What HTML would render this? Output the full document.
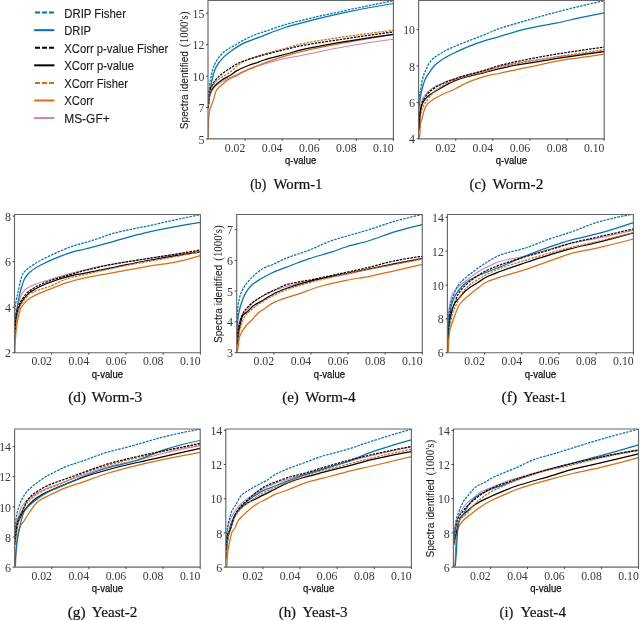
<!DOCTYPE html><html><head><meta charset="utf-8"><style>html,body{margin:0;padding:0;background:#fff;}svg{display:block;will-change:transform;}</style></head><body>
<svg width="640" height="620" viewBox="0 0 640 620">
<rect width="640" height="620" fill="#fff"/>
<line x1="35" y1="12.6" x2="54" y2="12.6" stroke="#0072b2" stroke-width="2" stroke-dasharray="5 2"/>
<text x="64.2" y="17.9" font-family='"Liberation Sans", sans-serif' font-size="12.2" fill="#1a1a1a" stroke="#1a1a1a" stroke-width="0.12" textLength="61.8" lengthAdjust="spacingAndGlyphs">DRIP Fisher</text>
<line x1="34.2" y1="30.18" x2="54.4" y2="30.18" stroke="#0072b2" stroke-width="2"/>
<text x="64.2" y="35.4" font-family='"Liberation Sans", sans-serif' font-size="12.2" fill="#1a1a1a" stroke="#1a1a1a" stroke-width="0.12" textLength="26.8" lengthAdjust="spacingAndGlyphs">DRIP</text>
<line x1="35" y1="47.76" x2="54" y2="47.76" stroke="#000000" stroke-width="2" stroke-dasharray="5 2"/>
<text x="64.2" y="52.9" font-family='"Liberation Sans", sans-serif' font-size="12.2" fill="#1a1a1a" stroke="#1a1a1a" stroke-width="0.12" textLength="104.2" lengthAdjust="spacingAndGlyphs">XCorr p-value Fisher</text>
<line x1="34.2" y1="65.34" x2="54.4" y2="65.34" stroke="#000000" stroke-width="2"/>
<text x="64.2" y="70.4" font-family='"Liberation Sans", sans-serif' font-size="12.2" fill="#1a1a1a" stroke="#1a1a1a" stroke-width="0.12" textLength="69.9" lengthAdjust="spacingAndGlyphs">XCorr p-value</text>
<line x1="35" y1="82.92" x2="54" y2="82.92" stroke="#d66e12" stroke-width="2" stroke-dasharray="5 2"/>
<text x="64.2" y="87.9" font-family='"Liberation Sans", sans-serif' font-size="12.2" fill="#1a1a1a" stroke="#1a1a1a" stroke-width="0.12" textLength="63.7" lengthAdjust="spacingAndGlyphs">XCorr Fisher</text>
<line x1="34.2" y1="100.5" x2="54.4" y2="100.5" stroke="#d66e12" stroke-width="2"/>
<text x="64.2" y="105.4" font-family='"Liberation Sans", sans-serif' font-size="12.2" fill="#1a1a1a" stroke="#1a1a1a" stroke-width="0.12" textLength="29.6" lengthAdjust="spacingAndGlyphs">XCorr</text>
<line x1="34.2" y1="118.08" x2="54.4" y2="118.08" stroke="#cd82b1" stroke-width="2"/>
<text x="64.2" y="122.9" font-family='"Liberation Sans", sans-serif' font-size="12.2" fill="#1a1a1a" stroke="#1a1a1a" stroke-width="0.12" textLength="45.5" lengthAdjust="spacingAndGlyphs">MS-GF+</text>
<clipPath id="cpb"><rect x="208" y="0.5" width="185.4" height="138.4"/></clipPath>
<g clip-path="url(#cpb)" fill="none" stroke-linejoin="round">
<path d="M208.1 109 C208.43 105.81 208.77 102.65 209.1 100.8 C209.8 96.91 210.5 94.06 211.2 92.5 C212.9 88.71 214.6 86.8 216.3 85.3 C219.73 82.26 223.17 80.84 226.6 79.1 C229.7 77.53 232.8 76.5 235.9 75 C237.37 74.29 238.83 73.37 240.3 72.7 C246.2 70 252.1 67.81 258 65.9 C267.03 62.98 276.07 60.48 285.1 58.5 C290.07 57.41 295.03 56.66 300 55.7 C314.83 52.84 329.67 49.38 344.5 46.8 C360.8 43.96 377.1 41.4 393.4 39.3" stroke="#cd82b1" stroke-width="1.1"/>
<path d="M207.9 138.9 C207.97 138.76 208.03 137.92 208.1 137 C208.27 134.7 208.43 121.57 208.6 119.4 C209.1 112.88 209.6 111.02 210.1 109 C211.13 104.83 212.17 103.84 213.2 100.8 C214.23 97.76 215.27 92.19 216.3 90.5 C218.37 87.12 220.43 86.19 222.5 84.3 C224.57 82.41 226.63 80.32 228.7 79.1 C231.8 77.27 234.9 76.7 238 75 C238.77 74.58 239.53 73.93 240.3 73.5 C246.2 70.2 252.1 67.82 258 65.5 C268.1 61.53 278.2 58.27 288.3 55.2 C292.2 54.01 296.1 52.85 300 51.9 C316.67 47.84 333.33 44.9 350 41.8 C364.47 39.11 378.93 36.6 393.4 34.3" stroke="#d66e12" stroke-width="1.25"/>
<path d="M208.3 108 C208.7 102.94 209.1 96.44 209.5 95 C211.1 89.26 212.7 88.31 214.3 86.4 C216.7 83.54 219.1 81.84 221.5 80.2 C224.6 78.08 227.7 76.98 230.8 75 C232.6 73.85 234.4 72.14 236.2 71.1 C240.23 68.76 244.27 67.04 248.3 65.5 C251.53 64.26 254.77 63.44 258 62.3 C260.03 61.58 262.07 60.66 264.1 60 C272.17 57.38 280.23 55.73 288.3 53.5 C292.2 52.42 296.1 51.12 300 50.2 C316.67 46.28 333.33 43.57 350 40.8 C364.47 38.39 378.93 36.21 393.4 34.3" stroke="#000000" stroke-width="1.25"/>
<path d="M208.5 104 C208.83 100.71 209.17 97.47 209.5 95 C210.33 88.82 211.17 83.53 212 80 C213.37 74.21 214.73 69.75 216.1 67.1 C218.77 61.93 221.43 59.23 224.1 56.6 C226.8 53.94 229.5 52.06 232.2 50.2 C236.23 47.42 240.27 44.79 244.3 42.9 C248.87 40.76 253.43 39.43 258 37.7 C267.03 34.28 276.07 30.37 285.1 27.5 C290.07 25.92 295.03 24.61 300 23.3 C314.83 19.4 329.67 15.72 344.5 12.6 C360.8 9.17 377.1 6.07 393.4 3.5" stroke="#0072b2" stroke-width="1.25"/>
<path d="M208.3 106 C208.63 101.62 208.97 96.57 209.3 95 C210.27 90.45 211.23 89.24 212.2 87.4 C213.8 84.36 215.4 81.97 217 80.5 C219.87 77.87 222.73 76.92 225.6 75 C227.73 73.57 229.87 72.13 232 70.5 C234.77 68.39 237.53 65.13 240.3 63.5 C246.2 60.03 252.1 58.02 258 56 C267.03 52.91 276.07 50.94 285.1 48.4 C290.07 47 295.03 45.29 300 44.2 C314.83 40.96 329.67 38.98 344.5 36.8 C360.8 34.41 377.1 32.23 393.4 30.4" stroke="#d66e12" stroke-width="1.25" stroke-dasharray="2.5 1.1"/>
<path d="M208.3 104 C208.57 99.51 208.83 93.74 209.1 92.5 C210.13 87.68 211.17 87.21 212.2 85.3 C213.57 82.77 214.93 80.61 216.3 79.1 C220.27 74.71 224.23 72.22 228.2 69.5 C232.23 66.74 236.27 64.02 240.3 62.3 C246.2 59.79 252.1 58.32 258 56.6 C267.03 53.97 276.07 51.73 285.1 49.5 C290.07 48.28 295.03 46.97 300 46 C314.83 43.09 329.67 41.14 344.5 38.9 C360.8 36.44 377.1 34.09 393.4 31.9" stroke="#000000" stroke-width="1.25" stroke-dasharray="2.5 1.1"/>
<path d="M208.3 100 C208.4 98.45 208.5 96.76 208.6 95.6 C209.2 88.64 209.8 83.3 210.4 80 C211.77 72.48 213.13 67.95 214.5 64.7 C215.57 62.16 216.63 60.51 217.7 59 C219.83 55.98 221.97 53.53 224.1 51.8 C228.13 48.53 232.17 46.91 236.2 44.5 C238.9 42.89 241.6 41.09 244.3 39.7 C248.87 37.35 253.43 35.2 258 33.6 C259.53 33.06 261.07 32.68 262.6 32.2 C270.1 29.84 277.6 26.88 285.1 24.7 C290.07 23.26 295.03 22.02 300 20.8 C314.83 17.15 329.67 13.89 344.5 10.7 C360.8 7.19 377.1 3.84 393.4 0.7" stroke="#0072b2" stroke-width="1.25" stroke-dasharray="2.5 1.1"/>
</g>
<rect x="208" y="0.5" width="185.4" height="138.4" fill="none" stroke="#666666" stroke-width="1.15" stroke-linejoin="round"/>
<line x1="245.08" y1="138.9" x2="245.08" y2="140.9" stroke="#333" stroke-width="0.9"/>
<text x="245.38" y="151.6" font-family='"Liberation Serif", serif' font-size="12.6" fill="#383838" text-anchor="end" textLength="20.6" lengthAdjust="spacingAndGlyphs">0.02</text>
<line x1="282.16" y1="138.9" x2="282.16" y2="140.9" stroke="#333" stroke-width="0.9"/>
<text x="282.46" y="151.6" font-family='"Liberation Serif", serif' font-size="12.6" fill="#383838" text-anchor="end" textLength="20.6" lengthAdjust="spacingAndGlyphs">0.04</text>
<line x1="319.24" y1="138.9" x2="319.24" y2="140.9" stroke="#333" stroke-width="0.9"/>
<text x="319.54" y="151.6" font-family='"Liberation Serif", serif' font-size="12.6" fill="#383838" text-anchor="end" textLength="20.6" lengthAdjust="spacingAndGlyphs">0.06</text>
<line x1="356.32" y1="138.9" x2="356.32" y2="140.9" stroke="#333" stroke-width="0.9"/>
<text x="356.62" y="151.6" font-family='"Liberation Serif", serif' font-size="12.6" fill="#383838" text-anchor="end" textLength="20.6" lengthAdjust="spacingAndGlyphs">0.08</text>
<line x1="393.4" y1="138.9" x2="393.4" y2="140.9" stroke="#333" stroke-width="0.9"/>
<text x="393.7" y="151.6" font-family='"Liberation Serif", serif' font-size="12.6" fill="#383838" text-anchor="end" textLength="20.6" lengthAdjust="spacingAndGlyphs">0.10</text>
<line x1="206" y1="138.9" x2="208" y2="138.9" stroke="#333" stroke-width="0.9"/>
<text x="204.4" y="143.5" font-family='"Liberation Serif", serif' font-size="12.4" fill="#383838" text-anchor="end" textLength="6" lengthAdjust="spacingAndGlyphs">5</text>
<line x1="206" y1="107.5" x2="208" y2="107.5" stroke="#333" stroke-width="0.9"/>
<text x="204.4" y="112.1" font-family='"Liberation Serif", serif' font-size="12.4" fill="#383838" text-anchor="end" textLength="6" lengthAdjust="spacingAndGlyphs">7</text>
<line x1="206" y1="76.1" x2="208" y2="76.1" stroke="#333" stroke-width="0.9"/>
<text x="204.4" y="80.7" font-family='"Liberation Serif", serif' font-size="12.4" fill="#383838" text-anchor="end" textLength="11.8" lengthAdjust="spacingAndGlyphs">10</text>
<line x1="206" y1="44.7" x2="208" y2="44.7" stroke="#333" stroke-width="0.9"/>
<text x="204.4" y="49.3" font-family='"Liberation Serif", serif' font-size="12.4" fill="#383838" text-anchor="end" textLength="11.8" lengthAdjust="spacingAndGlyphs">12</text>
<line x1="206" y1="13.3" x2="208" y2="13.3" stroke="#333" stroke-width="0.9"/>
<text x="204.4" y="17.9" font-family='"Liberation Serif", serif' font-size="12.4" fill="#383838" text-anchor="end" textLength="11.8" lengthAdjust="spacingAndGlyphs">15</text>
<text x="300.7" y="164.1" font-family='"Liberation Sans", sans-serif' font-size="11.4" fill="#111" text-anchor="middle" stroke="#111" stroke-width="0.25" textLength="31.3" lengthAdjust="spacingAndGlyphs">q-value</text>
<text transform="translate(187.6 129.2) rotate(-90)" x="0" y="0" font-family='"Liberation Sans", sans-serif' font-size="11.2" fill="#1a1a1a" stroke="#1a1a1a" stroke-width="0.1" textLength="78.2" lengthAdjust="spacingAndGlyphs">Spectra identified</text>
<text transform="translate(187.6 46.9) rotate(-90)" x="0" y="0" font-family='"Liberation Serif", serif' font-size="12.8" fill="#1a1a1a" textLength="35.3" lengthAdjust="spacingAndGlyphs">(1000's)</text>
<text x="250.3" y="188.6" font-family='"Liberation Serif", serif' font-size="15.4" fill="#111" stroke="#111" stroke-width="0.2" textLength="15.9" lengthAdjust="spacingAndGlyphs">(b)</text>
<text x="273.6" y="188.6" font-family='"Liberation Serif", serif' font-size="15.4" fill="#111" stroke="#111" stroke-width="0.2" textLength="48.9" lengthAdjust="spacingAndGlyphs">Worm-1</text>
<clipPath id="cpc"><rect x="418.6" y="0.5" width="185.6" height="138.3"/></clipPath>
<g clip-path="url(#cpc)" fill="none" stroke-linejoin="round">
<path d="M418.8 125 C419.2 119.38 419.6 114.36 420 111.1 C420.47 107.3 420.93 104.06 421.4 102.4 C422.27 99.31 423.13 97.57 424 96.3 C426.9 92.04 429.8 89.82 432.7 88 C441 82.79 449.3 80.01 457.6 77.4 C466.73 74.52 475.87 73.12 485 70.6 C489.5 69.36 494 67.55 498.5 66.5 C510.67 63.65 522.83 61.92 535 60 C541.93 58.91 548.87 57.9 555.8 57 C564.4 55.89 573 55.07 581.6 54 C589.13 53.06 596.67 52.06 604.2 51" stroke="#cd82b1" stroke-width="1.1"/>
<path d="M418.9 138.8 C419.13 138.8 419.37 138.15 419.6 137.3 C419.9 136.21 420.2 126.04 420.5 124.2 C421.07 120.72 421.63 120.16 422.2 118.1 C423.07 114.95 423.93 110.43 424.8 108.5 C425.7 106.49 426.6 105.2 427.5 104.2 C430 101.42 432.5 99.84 435 98.3 C441.77 94.14 448.53 92 455.3 88.7 C459.83 86.49 464.37 83.77 468.9 81.9 C474.27 79.69 479.63 77.68 485 76.3 C489.5 75.14 494 74.45 498.5 73.5 C505.77 71.97 513.03 70.29 520.3 68.8 C525.2 67.79 530.1 66.92 535 65.9 C541.93 64.46 548.87 62.55 555.8 61.3 C564.4 59.75 573 58.66 581.6 57.4 C589.13 56.3 596.67 55.23 604.2 54.2" stroke="#d66e12" stroke-width="1.25"/>
<path d="M418.8 130 C419.07 127.35 419.33 124.54 419.6 121.6 C419.9 118.29 420.2 113 420.5 111.1 C421.07 107.51 421.63 105.69 422.2 104.2 C422.8 102.62 423.4 101.54 424 100.7 C426.03 97.85 428.07 96.16 430.1 94.6 C431.73 93.34 433.37 92.45 435 91.5 C442.53 87.1 450.07 82.41 457.6 79.7 C466.73 76.42 475.87 74.71 485 72.3 C489.5 71.11 494 69.83 498.5 68.8 C505.77 67.13 513.03 65.64 520.3 64.4 C525.2 63.57 530.1 62.97 535 62.2 C541.93 61.11 548.87 59.81 555.8 58.7 C564.4 57.33 573 56.06 581.6 54.8 C589.13 53.7 596.67 52.63 604.2 51.6" stroke="#000000" stroke-width="1.25"/>
<path d="M418.8 110 C419.2 106.22 419.6 102.7 420 100 C420.6 95.95 421.2 92.49 421.8 90 C422.9 85.43 424 81.9 425.1 79.5 C426.97 75.43 428.83 73.26 430.7 70.6 C432.13 68.56 433.57 66.37 435 65 C438.77 61.41 442.53 59.31 446.3 57.1 C450.07 54.89 453.83 53.18 457.6 51.4 C461.37 49.62 465.13 47.89 468.9 46.4 C474.27 44.28 479.63 42.38 485 40.7 C489.5 39.29 494 38.21 498.5 36.9 C505.77 34.79 513.03 32.12 520.3 30.3 C525.2 29.07 530.1 28.09 535 27.1 C541.93 25.7 548.87 24.61 555.8 23.2 C564.4 21.45 573 19.24 581.6 17.4 C589.13 15.79 596.67 14.26 604.2 12.8" stroke="#0072b2" stroke-width="1.25"/>
<path d="M418.8 132 C419.5 123.99 420.2 116.94 420.9 113.7 C421.63 110.31 422.37 108.41 423.1 106.8 C424.57 103.59 426.03 101.77 427.5 99.8 C430.4 95.9 433.3 92.16 436.2 90 C443.33 84.69 450.47 81.51 457.6 79 C466.73 75.78 475.87 74.46 485 71.8 C489.5 70.49 494 68.62 498.5 67.5 C510.67 64.47 522.83 62.67 535 60.5 C541.93 59.26 548.87 58.12 555.8 57 C564.4 55.61 573 54.29 581.6 53 C589.13 51.87 596.67 50.77 604.2 49.7" stroke="#d66e12" stroke-width="1.25" stroke-dasharray="2.5 1.1"/>
<path d="M418.8 128 C419.2 121.8 419.6 115.94 420 113 C420.6 108.59 421.2 105.89 421.8 104 C422.7 101.16 423.6 99.37 424.5 98 C427.33 93.67 430.17 90.91 433 89 C441.2 83.48 449.4 80.86 457.6 78 C466.73 74.81 475.87 73 485 70.2 C489.5 68.82 494 67.03 498.5 65.8 C505.77 63.82 513.03 62.33 520.3 60.8 C525.2 59.77 530.1 58.82 535 57.9 C541.93 56.6 548.87 55.34 555.8 54.2 C564.4 52.79 573 51.58 581.6 50.3 C589.13 49.18 596.67 48.08 604.2 47" stroke="#000000" stroke-width="1.25" stroke-dasharray="2.5 1.1"/>
<path d="M418.8 104 C419 100.78 419.2 97.53 419.4 96 C419.8 92.94 420.2 92.11 420.6 90 C421.27 86.48 421.93 81.21 422.6 78.7 C423.7 74.56 424.8 72.23 425.9 69.8 C427.5 66.27 429.1 62.93 430.7 61 C432.13 59.27 433.57 58.17 435 57.1 C438.77 54.29 442.53 52.24 446.3 50.3 C450.07 48.36 453.83 46.79 457.6 45.2 C461.37 43.61 465.13 42.18 468.9 40.7 C474.27 38.6 479.63 36.65 485 34.5 C489.5 32.7 494 30.49 498.5 28.9 C505.77 26.32 513.03 24.46 520.3 22.3 C525.2 20.84 530.1 19.39 535 18 C541.93 16.03 548.87 14.12 555.8 12.3 C564.4 10.04 573 7.82 581.6 5.8 C589.13 4.03 596.67 2.36 604.2 0.8" stroke="#0072b2" stroke-width="1.25" stroke-dasharray="2.5 1.1"/>
</g>
<rect x="418.6" y="0.5" width="185.6" height="138.3" fill="none" stroke="#666666" stroke-width="1.15" stroke-linejoin="round"/>
<line x1="455.72" y1="138.8" x2="455.72" y2="140.8" stroke="#333" stroke-width="0.9"/>
<text x="456.02" y="151.5" font-family='"Liberation Serif", serif' font-size="12.6" fill="#383838" text-anchor="end" textLength="20.6" lengthAdjust="spacingAndGlyphs">0.02</text>
<line x1="492.84" y1="138.8" x2="492.84" y2="140.8" stroke="#333" stroke-width="0.9"/>
<text x="493.14" y="151.5" font-family='"Liberation Serif", serif' font-size="12.6" fill="#383838" text-anchor="end" textLength="20.6" lengthAdjust="spacingAndGlyphs">0.04</text>
<line x1="529.96" y1="138.8" x2="529.96" y2="140.8" stroke="#333" stroke-width="0.9"/>
<text x="530.26" y="151.5" font-family='"Liberation Serif", serif' font-size="12.6" fill="#383838" text-anchor="end" textLength="20.6" lengthAdjust="spacingAndGlyphs">0.06</text>
<line x1="567.08" y1="138.8" x2="567.08" y2="140.8" stroke="#333" stroke-width="0.9"/>
<text x="567.38" y="151.5" font-family='"Liberation Serif", serif' font-size="12.6" fill="#383838" text-anchor="end" textLength="20.6" lengthAdjust="spacingAndGlyphs">0.08</text>
<line x1="604.2" y1="138.8" x2="604.2" y2="140.8" stroke="#333" stroke-width="0.9"/>
<text x="604.5" y="151.5" font-family='"Liberation Serif", serif' font-size="12.6" fill="#383838" text-anchor="end" textLength="20.6" lengthAdjust="spacingAndGlyphs">0.10</text>
<line x1="416.6" y1="138.8" x2="418.6" y2="138.8" stroke="#333" stroke-width="0.9"/>
<text x="415" y="143.4" font-family='"Liberation Serif", serif' font-size="12.4" fill="#383838" text-anchor="end" textLength="6" lengthAdjust="spacingAndGlyphs">4</text>
<line x1="416.6" y1="102.4" x2="418.6" y2="102.4" stroke="#333" stroke-width="0.9"/>
<text x="415" y="107" font-family='"Liberation Serif", serif' font-size="12.4" fill="#383838" text-anchor="end" textLength="6" lengthAdjust="spacingAndGlyphs">6</text>
<line x1="416.6" y1="66.1" x2="418.6" y2="66.1" stroke="#333" stroke-width="0.9"/>
<text x="415" y="70.7" font-family='"Liberation Serif", serif' font-size="12.4" fill="#383838" text-anchor="end" textLength="6" lengthAdjust="spacingAndGlyphs">8</text>
<line x1="416.6" y1="29.7" x2="418.6" y2="29.7" stroke="#333" stroke-width="0.9"/>
<text x="415" y="34.3" font-family='"Liberation Serif", serif' font-size="12.4" fill="#383838" text-anchor="end" textLength="11.8" lengthAdjust="spacingAndGlyphs">10</text>
<text x="511.4" y="164" font-family='"Liberation Sans", sans-serif' font-size="11.4" fill="#111" text-anchor="middle" stroke="#111" stroke-width="0.25" textLength="31.3" lengthAdjust="spacingAndGlyphs">q-value</text>
<text x="469.6" y="188.5" font-family='"Liberation Serif", serif' font-size="15.4" fill="#111" stroke="#111" stroke-width="0.2" textLength="16.4" lengthAdjust="spacingAndGlyphs">(c)</text>
<text x="492.6" y="188.5" font-family='"Liberation Serif", serif' font-size="15.4" fill="#111" stroke="#111" stroke-width="0.2" textLength="50.7" lengthAdjust="spacingAndGlyphs">Worm-2</text>
<clipPath id="cpd"><rect x="14.5" y="214.5" width="185.9" height="138.2"/></clipPath>
<g clip-path="url(#cpd)" fill="none" stroke-linejoin="round">
<path d="M14.8 318 C15.5 314.42 16.2 311.01 16.9 308.4 C18.17 303.67 19.43 299.82 20.7 296.8 C21.57 294.73 22.43 292.62 23.3 291.6 C25.53 288.96 27.77 287.64 30 286.5 C36.47 283.2 42.93 281.79 49.4 279.7 C55.83 277.62 62.27 275.68 68.7 273.9 C74.13 272.4 79.57 270.94 85 269.7 C94.67 267.5 104.33 265.61 114 263.9 C124.33 262.07 134.67 260.62 145 259 C150.33 258.16 155.67 257.27 161 256.5 C174.13 254.6 187.27 252.81 200.4 251.3" stroke="#cd82b1" stroke-width="1.1"/>
<path d="M14.9 352.7 C14.93 351.31 14.97 349.54 15 348.7 C15.43 337.74 15.87 332.65 16.3 328.9 C17.13 321.69 17.97 318.28 18.8 314.8 C19.43 312.16 20.07 309.67 20.7 308.4 C22 305.79 23.3 304.65 24.6 303.2 C26.4 301.19 28.2 299.27 30 298.1 C36.47 293.88 42.93 292.05 49.4 289.4 C55.83 286.76 62.27 284.06 68.7 282.1 C74.13 280.44 79.57 279.08 85 277.9 C94.67 275.8 104.33 274.39 114 272.6 C124.33 270.69 134.67 268.53 145 266.8 C154.67 265.18 164.33 264.25 174 262.4 C182.8 260.71 191.6 258.31 200.4 255.6" stroke="#d66e12" stroke-width="1.25"/>
<path d="M14.8 335 C15.03 330.25 15.27 324.33 15.5 322.4 C16.6 313.32 17.7 310.48 18.8 307.6 C20.17 304.03 21.53 302.12 22.9 300.2 C25.27 296.87 27.63 294.03 30 292.3 C36.47 287.56 42.93 285.15 49.4 282.6 C55.83 280.06 62.27 277.87 68.7 276.3 C74.13 274.98 79.57 274.18 85 273.1 C94.67 271.19 104.33 269.25 114 267.3 C124.33 265.22 134.67 262.91 145 261 C163.47 257.59 181.93 254.43 200.4 251.8" stroke="#000000" stroke-width="1.25"/>
<path d="M14.8 325 C15.5 319.47 16.2 314.34 16.9 309.7 C17.53 305.5 18.17 301.19 18.8 298.1 C19.67 293.87 20.53 290.58 21.4 287.7 C22.47 284.16 23.53 280.6 24.6 278.7 C26.4 275.49 28.2 273.55 30 272 C34.83 267.84 39.67 265.65 44.5 263.2 C49.33 260.75 54.17 258.81 59 256.9 C63.87 254.97 68.73 252.95 73.6 251.6 C77.4 250.55 81.2 249.92 85 249 C94.67 246.65 104.33 243.89 114 241.3 C124.33 238.53 134.67 235.32 145 232.9 C154.67 230.64 164.33 228.7 174 226.9 C182.8 225.26 191.6 223.75 200.4 222.4" stroke="#0072b2" stroke-width="1.25"/>
<path d="M14.8 335 C16.13 323.34 17.47 312.97 18.8 309.2 C20.17 305.34 21.53 303.75 22.9 301.8 C25.27 298.42 27.63 295.14 30 293.7 C36.47 289.77 42.93 289.08 49.4 286.5 C55.83 283.94 62.27 280.1 68.7 278.2 C74.13 276.6 79.57 275.73 85 274.5 C94.67 272.32 104.33 270.01 114 268 C124.33 265.85 134.67 263.9 145 262 C154.67 260.22 164.33 258.68 174 256.9 C182.8 255.28 191.6 253.57 200.4 251.8" stroke="#d66e12" stroke-width="1.25" stroke-dasharray="2.5 1.1"/>
<path d="M14.8 330 C15.27 323.59 15.73 317.53 16.2 314.8 C16.87 310.9 17.53 308.93 18.2 307.1 C19.47 303.63 20.73 301.28 22 299.4 C24.67 295.43 27.33 292.42 30 290.5 C36.47 285.85 42.93 283.46 49.4 281 C55.83 278.55 62.27 276.88 68.7 275 C74.13 273.41 79.57 271.86 85 270.5 C94.67 268.08 104.33 265.82 114 264 C124.33 262.06 134.67 260.65 145 259 C154.67 257.45 164.33 255.97 174 254.4 C182.8 252.97 191.6 251.5 200.4 250" stroke="#000000" stroke-width="1.25" stroke-dasharray="2.5 1.1"/>
<path d="M14.8 318 C14.83 315.99 14.87 312.95 14.9 312.3 C15.33 303.8 15.77 303.26 16.2 300.6 C16.87 296.5 17.53 294.68 18.2 291.6 C18.83 288.68 19.47 285.06 20.1 282.6 C20.97 279.24 21.83 275.62 22.7 274.2 C25.13 270.22 27.57 268.95 30 267.1 C34.83 263.42 39.67 260.94 44.5 258.4 C49.33 255.86 54.17 253.68 59 251.6 C63.87 249.51 68.73 247.41 73.6 245.8 C79.07 244 84.53 242.86 90 241.2 C98 238.78 106 235.36 114 233.2 C119.33 231.76 124.67 230.65 130 229.5 C136.5 228.1 143 226.97 149.5 225.6 C157.67 223.88 165.83 221.88 174 220.1 C182.8 218.18 191.6 216.31 200.4 214.5" stroke="#0072b2" stroke-width="1.25" stroke-dasharray="2.5 1.1"/>
</g>
<rect x="14.5" y="214.5" width="185.9" height="138.2" fill="none" stroke="#666666" stroke-width="1.15" stroke-linejoin="round"/>
<line x1="51.68" y1="352.7" x2="51.68" y2="354.7" stroke="#333" stroke-width="0.9"/>
<text x="51.98" y="365.4" font-family='"Liberation Serif", serif' font-size="12.6" fill="#383838" text-anchor="end" textLength="20.6" lengthAdjust="spacingAndGlyphs">0.02</text>
<line x1="88.86" y1="352.7" x2="88.86" y2="354.7" stroke="#333" stroke-width="0.9"/>
<text x="89.16" y="365.4" font-family='"Liberation Serif", serif' font-size="12.6" fill="#383838" text-anchor="end" textLength="20.6" lengthAdjust="spacingAndGlyphs">0.04</text>
<line x1="126.04" y1="352.7" x2="126.04" y2="354.7" stroke="#333" stroke-width="0.9"/>
<text x="126.34" y="365.4" font-family='"Liberation Serif", serif' font-size="12.6" fill="#383838" text-anchor="end" textLength="20.6" lengthAdjust="spacingAndGlyphs">0.06</text>
<line x1="163.22" y1="352.7" x2="163.22" y2="354.7" stroke="#333" stroke-width="0.9"/>
<text x="163.52" y="365.4" font-family='"Liberation Serif", serif' font-size="12.6" fill="#383838" text-anchor="end" textLength="20.6" lengthAdjust="spacingAndGlyphs">0.08</text>
<line x1="200.4" y1="352.7" x2="200.4" y2="354.7" stroke="#333" stroke-width="0.9"/>
<text x="200.7" y="365.4" font-family='"Liberation Serif", serif' font-size="12.6" fill="#383838" text-anchor="end" textLength="20.6" lengthAdjust="spacingAndGlyphs">0.10</text>
<line x1="12.5" y1="352.7" x2="14.5" y2="352.7" stroke="#333" stroke-width="0.9"/>
<text x="10.9" y="357.3" font-family='"Liberation Serif", serif' font-size="12.4" fill="#383838" text-anchor="end" textLength="6" lengthAdjust="spacingAndGlyphs">2</text>
<line x1="12.5" y1="307.2" x2="14.5" y2="307.2" stroke="#333" stroke-width="0.9"/>
<text x="10.9" y="311.8" font-family='"Liberation Serif", serif' font-size="12.4" fill="#383838" text-anchor="end" textLength="6" lengthAdjust="spacingAndGlyphs">4</text>
<line x1="12.5" y1="261.6" x2="14.5" y2="261.6" stroke="#333" stroke-width="0.9"/>
<text x="10.9" y="266.2" font-family='"Liberation Serif", serif' font-size="12.4" fill="#383838" text-anchor="end" textLength="6" lengthAdjust="spacingAndGlyphs">6</text>
<line x1="12.5" y1="216.1" x2="14.5" y2="216.1" stroke="#333" stroke-width="0.9"/>
<text x="10.9" y="220.7" font-family='"Liberation Serif", serif' font-size="12.4" fill="#383838" text-anchor="end" textLength="6" lengthAdjust="spacingAndGlyphs">8</text>
<text x="107.45" y="377.9" font-family='"Liberation Sans", sans-serif' font-size="11.4" fill="#111" text-anchor="middle" stroke="#111" stroke-width="0.25" textLength="31.3" lengthAdjust="spacingAndGlyphs">q-value</text>
<text x="68.2" y="402.4" font-family='"Liberation Serif", serif' font-size="15.4" fill="#111" stroke="#111" stroke-width="0.2" textLength="17.8" lengthAdjust="spacingAndGlyphs">(d)</text>
<text x="91.4" y="402.4" font-family='"Liberation Serif", serif' font-size="15.4" fill="#111" stroke="#111" stroke-width="0.2" textLength="50.9" lengthAdjust="spacingAndGlyphs">Worm-3</text>
<clipPath id="cpe"><rect x="236.7" y="214.5" width="185.6" height="138.1"/></clipPath>
<g clip-path="url(#cpe)" fill="none" stroke-linejoin="round">
<path d="M236.9 340 C237.3 336.22 237.7 332.8 238.1 330 C238.53 326.97 238.97 323.85 239.4 322.2 C240.27 318.9 241.13 316.86 242 315.4 C244.27 311.59 246.53 310.47 248.8 307.7 C249.9 306.36 251 304.44 252.1 303.4 C256.13 299.6 260.17 297.51 264.2 295.3 C268.23 293.09 272.27 291.24 276.3 289.7 C279.53 288.46 282.77 287.39 286 286.5 C294.73 284.09 303.47 282.36 312.2 280.6 C323.47 278.33 334.73 276.75 346 274.5 C362.13 271.28 378.27 266.81 394.4 263.5 C403.7 261.59 413 259.84 422.3 258.2" stroke="#cd82b1" stroke-width="1.1"/>
<path d="M236.9 352.6 C237.1 351.65 237.3 350.77 237.5 350 C237.7 349.23 237.9 348.89 238.1 347.9 C238.4 346.41 238.7 340.72 239 339.3 C239.7 335.98 240.4 334.77 241.1 333.3 C242.53 330.28 243.97 328.28 245.4 326.5 C247.4 324.02 249.4 322.62 251.4 320.5 C253.4 318.38 255.4 315.46 257.4 313.7 C260.23 311.2 263.07 309.64 265.9 307.7 C268.47 305.95 271.03 303.83 273.6 302.6 C281.5 298.81 289.4 297.15 297.3 294.4 C304.83 291.78 312.37 288.64 319.9 286.5 C328.6 284.03 337.3 282.01 346 280.3 C353.9 278.75 361.8 277.82 369.7 276.3 C377.93 274.72 386.17 272.66 394.4 270.8 C403.7 268.7 413 266.57 422.3 264.4" stroke="#d66e12" stroke-width="1.25"/>
<path d="M236.9 345 C237.27 342.83 237.63 340.48 238 338 C238.33 335.75 238.67 332.85 239 330.8 C239.43 328.13 239.87 325.74 240.3 323.9 C241.13 320.36 241.97 316.53 242.8 315.4 C244.23 313.45 245.67 313.26 247.1 312 C249.1 310.25 251.1 307.51 253.1 306 C256.53 303.41 259.97 302 263.4 300 C267.7 297.5 272 294.56 276.3 292.5 C279.53 290.95 282.77 289.65 286 288.5 C294.73 285.38 303.47 282.78 312.2 280.6 C323.47 277.79 334.73 275.81 346 273.5 C362.13 270.19 378.27 266.94 394.4 263.8 C403.7 261.99 413 260.23 422.3 258.5" stroke="#000000" stroke-width="1.25"/>
<path d="M236.9 334 C237.1 329.7 237.3 325.23 237.5 323 C238 317.42 238.5 314.57 239 312 C239.6 308.92 240.2 306.88 240.8 305 C242.43 299.89 244.07 295.67 245.7 292.9 C247.83 289.28 249.97 286.73 252.1 284.8 C254.8 282.36 257.5 280.85 260.2 279.2 C264.23 276.74 268.27 274.54 272.3 272.7 C276.87 270.62 281.43 269.05 286 267.3 C293.53 264.41 301.07 261.41 308.6 258.9 C316.1 256.4 323.6 254.52 331.1 252.1 C336.07 250.5 341.03 248.53 346 247 C353.9 244.57 361.8 242.92 369.7 240.5 C377.93 237.98 386.17 234.37 394.4 231.9 C403.7 229.11 413 226.61 422.3 224.6" stroke="#0072b2" stroke-width="1.25"/>
<path d="M236.9 350 C237.27 349.53 237.63 347.36 238 345 C238.33 342.85 238.67 336.29 239 334.2 C239.7 329.81 240.4 327.82 241.1 325.6 C242.23 322.01 243.37 318.83 244.5 317.1 C247.37 312.73 250.23 310.9 253.1 308.5 C257.1 305.15 261.1 302.43 265.1 300 C267.5 298.54 269.9 297.29 272.3 296.1 C276.87 293.85 281.43 291.68 286 290 C295.4 286.54 304.8 284.03 314.2 281.5 C324.8 278.65 335.4 276.09 346 273.8 C362.13 270.32 378.27 267.58 394.4 264.5 C403.7 262.72 413 260.96 422.3 259.2" stroke="#d66e12" stroke-width="1.25" stroke-dasharray="2.5 1.1"/>
<path d="M236.9 338 C237.43 334.14 237.97 330.68 238.5 328 C239.1 324.99 239.7 322.42 240.3 320.5 C241.43 316.87 242.57 313.86 243.7 312 C245.4 309.21 247.1 307.73 248.8 306 C249.9 304.88 251 303.87 252.1 303 C256.13 299.82 260.17 297.24 264.2 295 C268.23 292.76 272.27 291.08 276.3 289.2 C279.53 287.69 282.77 285.75 286 284.8 C295.4 282.03 304.8 281.13 314.2 279.2 C324.8 277.02 335.4 274.72 346 272.4 C353.9 270.67 361.8 268.97 369.7 267.1 C377.93 265.15 386.17 262.52 394.4 260.9 C403.7 259.07 413 257.46 422.3 256.4" stroke="#000000" stroke-width="1.25" stroke-dasharray="2.5 1.1"/>
<path d="M236.9 330 C237 325.44 237.1 320.09 237.2 318 C237.6 309.65 238 305.74 238.4 303.4 C239.77 295.4 241.13 292.52 242.5 289.7 C244.37 285.85 246.23 283.83 248.1 281.6 C250.8 278.37 253.5 275.72 256.2 273.5 C258.87 271.3 261.53 269.25 264.2 267.9 C266.9 266.54 269.6 265.85 272.3 264.7 C276.87 262.76 281.43 260.15 286 258.3 C293.53 255.25 301.07 253.3 308.6 250.4 C316.1 247.52 323.6 243.42 331.1 240.8 C336.07 239.06 341.03 237.77 346 236.3 C353.9 233.95 361.8 231.82 369.7 229.4 C377.93 226.88 386.17 223.72 394.4 221.4 C403.7 218.78 413 216.42 422.3 214.5" stroke="#0072b2" stroke-width="1.25" stroke-dasharray="2.5 1.1"/>
</g>
<rect x="236.7" y="214.5" width="185.6" height="138.1" fill="none" stroke="#666666" stroke-width="1.15" stroke-linejoin="round"/>
<line x1="273.82" y1="352.6" x2="273.82" y2="354.6" stroke="#333" stroke-width="0.9"/>
<text x="274.12" y="365.3" font-family='"Liberation Serif", serif' font-size="12.6" fill="#383838" text-anchor="end" textLength="20.6" lengthAdjust="spacingAndGlyphs">0.02</text>
<line x1="310.94" y1="352.6" x2="310.94" y2="354.6" stroke="#333" stroke-width="0.9"/>
<text x="311.24" y="365.3" font-family='"Liberation Serif", serif' font-size="12.6" fill="#383838" text-anchor="end" textLength="20.6" lengthAdjust="spacingAndGlyphs">0.04</text>
<line x1="348.06" y1="352.6" x2="348.06" y2="354.6" stroke="#333" stroke-width="0.9"/>
<text x="348.36" y="365.3" font-family='"Liberation Serif", serif' font-size="12.6" fill="#383838" text-anchor="end" textLength="20.6" lengthAdjust="spacingAndGlyphs">0.06</text>
<line x1="385.18" y1="352.6" x2="385.18" y2="354.6" stroke="#333" stroke-width="0.9"/>
<text x="385.48" y="365.3" font-family='"Liberation Serif", serif' font-size="12.6" fill="#383838" text-anchor="end" textLength="20.6" lengthAdjust="spacingAndGlyphs">0.08</text>
<line x1="422.3" y1="352.6" x2="422.3" y2="354.6" stroke="#333" stroke-width="0.9"/>
<text x="422.6" y="365.3" font-family='"Liberation Serif", serif' font-size="12.6" fill="#383838" text-anchor="end" textLength="20.6" lengthAdjust="spacingAndGlyphs">0.10</text>
<line x1="234.7" y1="352.6" x2="236.7" y2="352.6" stroke="#333" stroke-width="0.9"/>
<text x="233.1" y="357.2" font-family='"Liberation Serif", serif' font-size="12.4" fill="#383838" text-anchor="end" textLength="6" lengthAdjust="spacingAndGlyphs">3</text>
<line x1="234.7" y1="321.85" x2="236.7" y2="321.85" stroke="#333" stroke-width="0.9"/>
<text x="233.1" y="326.45" font-family='"Liberation Serif", serif' font-size="12.4" fill="#383838" text-anchor="end" textLength="6" lengthAdjust="spacingAndGlyphs">4</text>
<line x1="234.7" y1="291.1" x2="236.7" y2="291.1" stroke="#333" stroke-width="0.9"/>
<text x="233.1" y="295.7" font-family='"Liberation Serif", serif' font-size="12.4" fill="#383838" text-anchor="end" textLength="6" lengthAdjust="spacingAndGlyphs">5</text>
<line x1="234.7" y1="260.35" x2="236.7" y2="260.35" stroke="#333" stroke-width="0.9"/>
<text x="233.1" y="264.95" font-family='"Liberation Serif", serif' font-size="12.4" fill="#383838" text-anchor="end" textLength="6" lengthAdjust="spacingAndGlyphs">6</text>
<line x1="234.7" y1="229.6" x2="236.7" y2="229.6" stroke="#333" stroke-width="0.9"/>
<text x="233.1" y="234.2" font-family='"Liberation Serif", serif' font-size="12.4" fill="#383838" text-anchor="end" textLength="6" lengthAdjust="spacingAndGlyphs">7</text>
<text x="329.5" y="377.8" font-family='"Liberation Sans", sans-serif' font-size="11.4" fill="#111" text-anchor="middle" stroke="#111" stroke-width="0.25" textLength="31.3" lengthAdjust="spacingAndGlyphs">q-value</text>
<text transform="translate(221.6 343.05) rotate(-90)" x="0" y="0" font-family='"Liberation Sans", sans-serif' font-size="11.2" fill="#1a1a1a" stroke="#1a1a1a" stroke-width="0.1" textLength="78.2" lengthAdjust="spacingAndGlyphs">Spectra identified</text>
<text transform="translate(221.6 260.75) rotate(-90)" x="0" y="0" font-family='"Liberation Serif", serif' font-size="12.8" fill="#1a1a1a" textLength="35.3" lengthAdjust="spacingAndGlyphs">(1000's)</text>
<text x="282.2" y="402.3" font-family='"Liberation Serif", serif' font-size="15.4" fill="#111" stroke="#111" stroke-width="0.2" textLength="16.7" lengthAdjust="spacingAndGlyphs">(e)</text>
<text x="305.05" y="402.3" font-family='"Liberation Serif", serif' font-size="15.4" fill="#111" stroke="#111" stroke-width="0.2" textLength="50.55" lengthAdjust="spacingAndGlyphs">Worm-4</text>
<clipPath id="cpf"><rect x="447.4" y="214.5" width="186" height="138.2"/></clipPath>
<g clip-path="url(#cpf)" fill="none" stroke-linejoin="round">
<path d="M447.6 335 C447.83 333.73 448.07 329.21 448.3 324.3 C448.43 321.49 448.57 313.88 448.7 312 C448.93 308.7 449.17 307.27 449.4 306 C450.7 298.92 452 294.9 453.3 292.6 C454.9 289.76 456.5 288.55 458.1 287 C460.8 284.39 463.5 282.57 466.2 280.5 C470.23 277.41 474.27 274.15 478.3 271.7 C480.87 270.14 483.43 268.87 486 267.6 C490.67 265.29 495.33 262.55 500 261.2 C508.17 258.84 516.33 258.2 524.5 256.3 C532.67 254.4 540.83 251.82 549 249.5 C556 247.51 563 245.03 570 243.4 C579.27 241.25 588.53 239.99 597.8 238.1 C609.67 235.67 621.53 233.04 633.4 230.2" stroke="#cd82b1" stroke-width="1.1"/>
<path d="M447.9 352.7 C448.03 352.7 448.17 352.18 448.3 351.4 C448.43 350.62 448.57 341.6 448.7 339.8 C449.1 334.39 449.5 332.45 449.9 330.5 C450.67 326.76 451.43 325.12 452.2 322.8 C453.23 319.67 454.27 316.94 455.3 314.3 C456.6 310.98 457.9 306.92 459.2 305 C462.87 299.57 466.53 297.51 470.2 294.3 C472.9 291.94 475.6 289.86 478.3 287.8 C480.87 285.84 483.43 283.47 486 282.2 C490.67 279.89 495.33 278.74 500 277.2 C508.17 274.51 516.33 272.45 524.5 269.8 C532.67 267.15 540.83 264.07 549 261.2 C556 258.74 563 255.68 570 253.8 C579.27 251.32 588.53 250.02 597.8 247.9 C609.67 245.18 621.53 242.22 633.4 239" stroke="#d66e12" stroke-width="1.25"/>
<path d="M447.7 340 C448.17 333.4 448.63 327.6 449.1 324.3 C449.6 320.76 450.1 318.8 450.6 316.6 C451.63 312.04 452.67 307.07 453.7 305 C455.43 301.53 457.17 300.38 458.9 298.3 C461.33 295.39 463.77 292.26 466.2 290.2 C470.23 286.79 474.27 284.81 478.3 282.2 C480.87 280.54 483.43 278.61 486 277.3 C490.67 274.91 495.33 273.28 500 271.5 C508.17 268.39 516.33 265.73 524.5 263 C532.67 260.27 540.83 257.61 549 255.1 C556 252.94 563 250.74 570 248.9 C579.27 246.47 588.53 244.7 597.8 242.4 C609.67 239.45 621.53 236.29 633.4 232.9" stroke="#000000" stroke-width="1.25"/>
<path d="M447.6 335 C447.9 331.28 448.2 327.88 448.5 325 C448.83 321.8 449.17 319 449.5 316.6 C450.13 312.05 450.77 307.41 451.4 305 C452.57 300.57 453.73 298.05 454.9 295.9 C457.3 291.48 459.7 288.63 462.1 286.2 C464.8 283.47 467.5 281.32 470.2 279.7 C475.47 276.55 480.73 274.72 486 272.5 C490.67 270.53 495.33 268.92 500 267 C508.17 263.64 516.33 259.6 524.5 256.3 C532.67 253 540.83 249.93 549 247.1 C556 244.67 563 242.23 570 240.3 C578.53 237.95 587.07 236.45 595.6 234.2 C603.63 232.08 611.67 229.61 619.7 227.1 C624.27 225.67 628.83 224.16 633.4 222.6" stroke="#0072b2" stroke-width="1.25"/>
<path d="M447.8 345 C448.13 341.28 448.47 337.81 448.8 335 C449.3 330.79 449.8 327.21 450.3 324.3 C450.93 320.62 451.57 317.31 452.2 315.1 C453.5 310.55 454.8 307.96 456.1 305 C458.1 300.44 460.1 295.78 462.1 293 C464.8 289.25 467.5 286.74 470.2 284.6 C475.47 280.42 480.73 277.65 486 274.9 C490.67 272.46 495.33 270.29 500 268.5 C508.17 265.36 516.33 263.15 524.5 260.6 C532.67 258.05 540.83 255.49 549 253.2 C556 251.24 563 249.41 570 247.7 C579.27 245.44 588.53 243.59 597.8 241.4 C609.67 238.6 621.53 235.67 633.4 232.6" stroke="#d66e12" stroke-width="1.25" stroke-dasharray="2.5 1.1"/>
<path d="M447.6 338 C448 333.17 448.4 328.77 448.8 325 C449.2 321.23 449.6 316.7 450 315 C451.33 309.32 452.67 308.4 454 305 C455.37 301.51 456.73 296.64 458.1 294.3 C460.8 289.68 463.5 287.21 466.2 284.6 C468.87 282.02 471.53 279.98 474.2 278.1 C478.13 275.33 482.07 272.87 486 270.9 C490.67 268.56 495.33 266.74 500 265 C508.17 261.96 516.33 259.49 524.5 257 C532.67 254.51 540.83 252.43 549 250 C556 247.92 563 245.38 570 243.5 C579.27 241.02 588.53 239.11 597.8 237 C609.67 234.29 621.53 231.65 633.4 229.1" stroke="#000000" stroke-width="1.25" stroke-dasharray="2.5 1.1"/>
<path d="M447.6 335 C447.83 330 448.07 325.43 448.3 322 C448.6 317.59 448.9 313.16 449.2 311.2 C450.3 304.02 451.4 301.56 452.5 298.3 C454.37 292.77 456.23 288.07 458.1 285.4 C460.8 281.54 463.5 279.7 466.2 277.3 C468.87 274.93 471.53 272.88 474.2 270.9 C478.13 267.98 482.07 265.21 486 262.8 C490.67 259.94 495.33 256.87 500 255.1 C508.17 251.99 516.33 250.91 524.5 248.3 C532.67 245.69 540.83 241.91 549 239.1 C556 236.69 563 234.78 570 232.4 C579.27 229.25 588.53 224.79 597.8 222.2 C609.67 218.88 621.53 215.97 633.4 214.3" stroke="#0072b2" stroke-width="1.25" stroke-dasharray="2.5 1.1"/>
</g>
<rect x="447.4" y="214.5" width="186" height="138.2" fill="none" stroke="#666666" stroke-width="1.15" stroke-linejoin="round"/>
<line x1="484.6" y1="352.7" x2="484.6" y2="354.7" stroke="#333" stroke-width="0.9"/>
<text x="484.9" y="365.4" font-family='"Liberation Serif", serif' font-size="12.6" fill="#383838" text-anchor="end" textLength="20.6" lengthAdjust="spacingAndGlyphs">0.02</text>
<line x1="521.8" y1="352.7" x2="521.8" y2="354.7" stroke="#333" stroke-width="0.9"/>
<text x="522.1" y="365.4" font-family='"Liberation Serif", serif' font-size="12.6" fill="#383838" text-anchor="end" textLength="20.6" lengthAdjust="spacingAndGlyphs">0.04</text>
<line x1="559" y1="352.7" x2="559" y2="354.7" stroke="#333" stroke-width="0.9"/>
<text x="559.3" y="365.4" font-family='"Liberation Serif", serif' font-size="12.6" fill="#383838" text-anchor="end" textLength="20.6" lengthAdjust="spacingAndGlyphs">0.06</text>
<line x1="596.2" y1="352.7" x2="596.2" y2="354.7" stroke="#333" stroke-width="0.9"/>
<text x="596.5" y="365.4" font-family='"Liberation Serif", serif' font-size="12.6" fill="#383838" text-anchor="end" textLength="20.6" lengthAdjust="spacingAndGlyphs">0.08</text>
<line x1="633.4" y1="352.7" x2="633.4" y2="354.7" stroke="#333" stroke-width="0.9"/>
<text x="633.7" y="365.4" font-family='"Liberation Serif", serif' font-size="12.6" fill="#383838" text-anchor="end" textLength="20.6" lengthAdjust="spacingAndGlyphs">0.10</text>
<line x1="445.4" y1="352.7" x2="447.4" y2="352.7" stroke="#333" stroke-width="0.9"/>
<text x="443.8" y="357.3" font-family='"Liberation Serif", serif' font-size="12.4" fill="#383838" text-anchor="end" textLength="6" lengthAdjust="spacingAndGlyphs">6</text>
<line x1="445.4" y1="318.85" x2="447.4" y2="318.85" stroke="#333" stroke-width="0.9"/>
<text x="443.8" y="323.45" font-family='"Liberation Serif", serif' font-size="12.4" fill="#383838" text-anchor="end" textLength="6" lengthAdjust="spacingAndGlyphs">8</text>
<line x1="445.4" y1="285" x2="447.4" y2="285" stroke="#333" stroke-width="0.9"/>
<text x="443.8" y="289.6" font-family='"Liberation Serif", serif' font-size="12.4" fill="#383838" text-anchor="end" textLength="11.8" lengthAdjust="spacingAndGlyphs">10</text>
<line x1="445.4" y1="251.15" x2="447.4" y2="251.15" stroke="#333" stroke-width="0.9"/>
<text x="443.8" y="255.75" font-family='"Liberation Serif", serif' font-size="12.4" fill="#383838" text-anchor="end" textLength="11.8" lengthAdjust="spacingAndGlyphs">12</text>
<line x1="445.4" y1="217.3" x2="447.4" y2="217.3" stroke="#333" stroke-width="0.9"/>
<text x="443.8" y="221.9" font-family='"Liberation Serif", serif' font-size="12.4" fill="#383838" text-anchor="end" textLength="11.8" lengthAdjust="spacingAndGlyphs">14</text>
<text x="540.4" y="377.9" font-family='"Liberation Sans", sans-serif' font-size="11.4" fill="#111" text-anchor="middle" stroke="#111" stroke-width="0.25" textLength="31.3" lengthAdjust="spacingAndGlyphs">q-value</text>
<text x="501.6" y="402.4" font-family='"Liberation Serif", serif' font-size="15.4" fill="#111" stroke="#111" stroke-width="0.2" textLength="15.6" lengthAdjust="spacingAndGlyphs">(f)</text>
<text x="523.3" y="402.4" font-family='"Liberation Serif", serif' font-size="15.4" fill="#111" stroke="#111" stroke-width="0.2" textLength="43.4" lengthAdjust="spacingAndGlyphs">Yeast-1</text>
<clipPath id="cpg"><rect x="14.6" y="429" width="185.6" height="138.1"/></clipPath>
<g clip-path="url(#cpg)" fill="none" stroke-linejoin="round">
<path d="M14.8 540 C15.2 533.94 15.6 527.35 16 525 C16.97 519.33 17.93 518.27 18.9 515 C19.6 512.63 20.3 509.4 21 508 C22.7 504.59 24.4 502.97 26.1 501.3 C30.13 497.34 34.17 494.59 38.2 492.4 C46.8 487.73 55.4 485.15 64 481.9 C70.47 479.45 76.93 477.25 83.4 475 C91.23 472.27 99.07 469.13 106.9 467 C116.27 464.45 125.63 462.96 135 460.7 C144.57 458.39 154.13 455.43 163.7 453.2 C175.87 450.37 188.03 447.77 200.2 445.6" stroke="#cd82b1" stroke-width="1.1"/>
<path d="M14.9 567.1 C15.1 567.1 15.3 566.28 15.5 565 C15.67 563.93 15.83 552.65 16 550 C16.33 544.71 16.67 542.31 17 540 C17.67 535.38 18.33 532.22 19 530 C19.67 527.78 20.33 526.18 21 525 C22 523.22 23 522.44 24 521 C25.67 518.59 27.33 515.39 29 513 C32.07 508.6 35.13 503.66 38.2 501.3 C42.23 498.2 46.27 496.82 50.3 494.8 C54.87 492.51 59.43 490.21 64 488.4 C70.47 485.83 76.93 484.04 83.4 481.8 C91.23 479.09 99.07 475.91 106.9 473.5 C114.6 471.13 122.3 469.14 130 467.2 C141.23 464.37 152.47 461.78 163.7 459.4 C175.87 456.83 188.03 454.43 200.2 452.3" stroke="#d66e12" stroke-width="1.25"/>
<path d="M14.8 545 C15.7 536.32 16.6 528.64 17.5 525 C18.47 521.09 19.43 519.03 20.4 517 C21.77 514.13 23.13 512.04 24.5 510.2 C27.73 505.84 30.97 502.23 34.2 499.7 C38.23 496.54 42.27 494.45 46.3 492.4 C52.2 489.41 58.1 487.24 64 484.8 C70.47 482.13 76.93 479.33 83.4 477.1 C91.23 474.4 99.07 472.15 106.9 470 C116.27 467.43 125.63 465.2 135 463 C144.57 460.75 154.13 458.74 163.7 456.6 C175.87 453.88 188.03 451.14 200.2 448.4" stroke="#000000" stroke-width="1.25"/>
<path d="M14.8 567 C15.2 561.37 15.6 556 16 552 C16.73 544.66 17.47 538.68 18.2 534.3 C18.7 531.31 19.2 529.09 19.7 527 C21.13 521.02 22.57 514.49 24 512 C27.4 506.08 30.8 504.14 34.2 501.3 C38.23 497.93 42.27 495.23 46.3 493 C52.2 489.74 58.1 487.63 64 485 C70.47 482.12 76.93 479.07 83.4 476.5 C91.23 473.39 99.07 470.32 106.9 468 C116.27 465.22 125.63 463.85 135 461 C144.57 458.09 154.13 452.77 163.7 449.8 C175.87 446.02 188.03 442.68 200.2 440.5" stroke="#0072b2" stroke-width="1.25"/>
<path d="M14.8 545 C15.7 536.62 16.6 529.25 17.5 525 C18.47 520.43 19.43 517.5 20.4 515 C21.9 511.13 23.4 508.04 24.9 506 C29.33 499.97 33.77 496.21 38.2 493.5 C46.8 488.24 55.4 486.33 64 482.5 C70.47 479.62 76.93 476.05 83.4 473.5 C91.23 470.41 99.07 467.8 106.9 465.5 C116.27 462.75 125.63 460.61 135 458.3 C144.57 455.94 154.13 453.55 163.7 451.5 C175.87 448.89 188.03 446.48 200.2 444.4" stroke="#d66e12" stroke-width="1.25" stroke-dasharray="2.5 1.1"/>
<path d="M14.8 540 C15.7 532.15 16.6 525.21 17.5 522 C18.47 518.55 19.43 517.02 20.4 515 C20.97 513.81 21.53 512.93 22.1 511.8 C23.97 508.09 25.83 502.08 27.7 499.7 C31.2 495.24 34.7 493.09 38.2 490.8 C42.23 488.16 46.27 486.13 50.3 484.4 C54.87 482.44 59.43 481.15 64 479.5 C70.47 477.16 76.93 474.71 83.4 472.4 C91.23 469.6 99.07 466.51 106.9 464.2 C116.27 461.44 125.63 459.28 135 457.1 C144.57 454.87 154.13 452.93 163.7 450.9 C175.87 448.32 188.03 445.78 200.2 443.3" stroke="#000000" stroke-width="1.25" stroke-dasharray="2.5 1.1"/>
<path d="M14.8 535 C15.2 528.4 15.6 522.68 16 519.5 C16.4 516.32 16.8 514.22 17.2 512.6 C18.83 505.99 20.47 502.04 22.1 498.9 C23.97 495.32 25.83 492.85 27.7 490.8 C31.2 486.96 34.7 484.55 38.2 481.9 C40.9 479.85 43.6 477.87 46.3 476.3 C48.97 474.75 51.63 473.64 54.3 472.3 C57.53 470.68 60.77 468.75 64 467.4 C70.47 464.69 76.93 462.96 83.4 460.7 C91.23 457.97 99.07 454.74 106.9 452.4 C114.6 450.1 122.3 448.48 130 446.4 C141.23 443.37 152.47 439.62 163.7 436.9 C175.87 433.96 188.03 431.32 200.2 429.2" stroke="#0072b2" stroke-width="1.25" stroke-dasharray="2.5 1.1"/>
</g>
<rect x="14.6" y="429" width="185.6" height="138.1" fill="none" stroke="#666666" stroke-width="1.15" stroke-linejoin="round"/>
<line x1="51.72" y1="567.1" x2="51.72" y2="569.1" stroke="#333" stroke-width="0.9"/>
<text x="52.02" y="579.8" font-family='"Liberation Serif", serif' font-size="12.6" fill="#383838" text-anchor="end" textLength="20.6" lengthAdjust="spacingAndGlyphs">0.02</text>
<line x1="88.84" y1="567.1" x2="88.84" y2="569.1" stroke="#333" stroke-width="0.9"/>
<text x="89.14" y="579.8" font-family='"Liberation Serif", serif' font-size="12.6" fill="#383838" text-anchor="end" textLength="20.6" lengthAdjust="spacingAndGlyphs">0.04</text>
<line x1="125.96" y1="567.1" x2="125.96" y2="569.1" stroke="#333" stroke-width="0.9"/>
<text x="126.26" y="579.8" font-family='"Liberation Serif", serif' font-size="12.6" fill="#383838" text-anchor="end" textLength="20.6" lengthAdjust="spacingAndGlyphs">0.06</text>
<line x1="163.08" y1="567.1" x2="163.08" y2="569.1" stroke="#333" stroke-width="0.9"/>
<text x="163.38" y="579.8" font-family='"Liberation Serif", serif' font-size="12.6" fill="#383838" text-anchor="end" textLength="20.6" lengthAdjust="spacingAndGlyphs">0.08</text>
<line x1="200.2" y1="567.1" x2="200.2" y2="569.1" stroke="#333" stroke-width="0.9"/>
<text x="200.5" y="579.8" font-family='"Liberation Serif", serif' font-size="12.6" fill="#383838" text-anchor="end" textLength="20.6" lengthAdjust="spacingAndGlyphs">0.10</text>
<line x1="12.6" y1="567.1" x2="14.6" y2="567.1" stroke="#333" stroke-width="0.9"/>
<text x="11" y="571.7" font-family='"Liberation Serif", serif' font-size="12.4" fill="#383838" text-anchor="end" textLength="6" lengthAdjust="spacingAndGlyphs">6</text>
<line x1="12.6" y1="537" x2="14.6" y2="537" stroke="#333" stroke-width="0.9"/>
<text x="11" y="541.6" font-family='"Liberation Serif", serif' font-size="12.4" fill="#383838" text-anchor="end" textLength="6" lengthAdjust="spacingAndGlyphs">8</text>
<line x1="12.6" y1="506.9" x2="14.6" y2="506.9" stroke="#333" stroke-width="0.9"/>
<text x="11" y="511.5" font-family='"Liberation Serif", serif' font-size="12.4" fill="#383838" text-anchor="end" textLength="11.8" lengthAdjust="spacingAndGlyphs">10</text>
<line x1="12.6" y1="476.8" x2="14.6" y2="476.8" stroke="#333" stroke-width="0.9"/>
<text x="11" y="481.4" font-family='"Liberation Serif", serif' font-size="12.4" fill="#383838" text-anchor="end" textLength="11.8" lengthAdjust="spacingAndGlyphs">12</text>
<line x1="12.6" y1="446.7" x2="14.6" y2="446.7" stroke="#333" stroke-width="0.9"/>
<text x="11" y="451.3" font-family='"Liberation Serif", serif' font-size="12.4" fill="#383838" text-anchor="end" textLength="11.8" lengthAdjust="spacingAndGlyphs">14</text>
<text x="107.4" y="592.3" font-family='"Liberation Sans", sans-serif' font-size="11.4" fill="#111" text-anchor="middle" stroke="#111" stroke-width="0.25" textLength="31.3" lengthAdjust="spacingAndGlyphs">q-value</text>
<text x="67.7" y="616.8" font-family='"Liberation Serif", serif' font-size="15.4" fill="#111" stroke="#111" stroke-width="0.2" textLength="17.9" lengthAdjust="spacingAndGlyphs">(g)</text>
<text x="91.8" y="616.8" font-family='"Liberation Serif", serif' font-size="15.4" fill="#111" stroke="#111" stroke-width="0.2" textLength="45.6" lengthAdjust="spacingAndGlyphs">Yeast-2</text>
<clipPath id="cph"><rect x="225.8" y="429" width="185.6" height="138.1"/></clipPath>
<g clip-path="url(#cph)" fill="none" stroke-linejoin="round">
<path d="M225.9 548 C226.27 541.79 226.63 534.34 227 532 C228.33 523.49 229.67 520.86 231 518 C234.37 510.77 237.73 507.08 241.1 503.7 C243.8 500.99 246.5 499.15 249.2 497.3 C251.9 495.45 254.6 494 257.3 492.4 C260.5 490.5 263.7 488.33 266.9 486.8 C269.6 485.51 272.3 484.48 275 483.5 C285.07 479.84 295.13 477.04 305.2 474 C318.47 470 331.73 466.1 345 462.5 C354.73 459.86 364.47 457.29 374.2 455 C386.6 452.09 399 449.38 411.4 447" stroke="#cd82b1" stroke-width="1.1"/>
<path d="M226.9 567.1 C226.93 566.39 226.97 565.69 227 565 C227.17 561.57 227.33 556.82 227.5 555 C228 549.55 228.5 547.75 229 545 C229.5 542.25 230 540.15 230.5 538 C231 535.85 231.5 533.06 232 532 C233 529.88 234 529.7 235 528 C236 526.3 237 522.54 238 521 C240.33 517.4 242.67 515.66 245 513.5 C249.1 509.7 253.2 506.2 257.3 503.7 C260.5 501.75 263.7 500.59 266.9 498.9 C269.6 497.48 272.3 495.58 275 494.4 C279.2 492.57 283.4 491.57 287.6 490 C293.47 487.81 299.33 484.79 305.2 482.9 C311.07 481.01 316.93 479.76 322.8 478.2 C330.2 476.23 337.6 474.14 345 472.3 C354.73 469.88 364.47 467.78 374.2 465.5 C386.6 462.59 399 459.66 411.4 456.7" stroke="#d66e12" stroke-width="1.25"/>
<path d="M225.9 558 C226.43 550.49 226.97 543.26 227.5 540 C228.33 534.9 229.17 532.9 230 530 C231.67 524.19 233.33 517.71 235 515 C238.4 509.48 241.8 506.9 245.2 504.5 C249.23 501.66 253.27 500.18 257.3 498.1 C263.2 495.05 269.1 492.16 275 489.2 C279.2 487.09 283.4 484.59 287.6 482.9 C293.47 480.54 299.33 478.83 305.2 477.1 C311.07 475.37 316.93 473.92 322.8 472.4 C330.2 470.48 337.6 468.69 345 466.8 C354.73 464.31 364.47 461.44 374.2 459.2 C386.6 456.35 399 453.74 411.4 451.6" stroke="#000000" stroke-width="1.25"/>
<path d="M225.9 555 C227.27 542.94 228.63 531.93 230 527 C231.67 520.99 233.33 517.88 235 515 C237 511.54 239 509.16 241 507 C243.73 504.05 246.47 501.81 249.2 499.7 C253.23 496.59 257.27 493.66 261.3 491.6 C265.87 489.27 270.43 487.79 275 486 C285.07 482.05 295.13 478.11 305.2 474.7 C318.47 470.21 331.73 467.07 345 462.5 C354.73 459.15 364.47 454.54 374.2 451.2 C386.6 446.94 399 443.04 411.4 439.8" stroke="#0072b2" stroke-width="1.25"/>
<path d="M225.9 560 C226.43 551.56 226.97 543.36 227.5 540 C228.33 534.75 229.17 532.57 230 530 C232.37 522.71 234.73 516.68 237.1 513.4 C241.13 507.81 245.17 505.25 249.2 502.1 C253.23 498.95 257.27 496.23 261.3 494 C265.87 491.48 270.43 489.56 275 487.6 C285.07 483.29 295.13 479.16 305.2 475.9 C318.47 471.61 331.73 468.51 345 465 C354.73 462.42 364.47 459.82 374.2 457.5 C386.6 454.55 399 451.78 411.4 449.3" stroke="#d66e12" stroke-width="1.25" stroke-dasharray="2.5 1.1"/>
<path d="M225.9 550 C226.43 543.47 226.97 536.85 227.5 535 C228.33 532.12 229.17 531.96 230 530 C231.67 526.09 233.33 518.33 235 515 C237.03 510.93 239.07 508.34 241.1 506 C243.8 502.89 246.5 500.91 249.2 498.5 C251.9 496.09 254.6 493.47 257.3 491.5 C260.5 489.17 263.7 487.07 266.9 485.5 C269.6 484.18 272.3 483.23 275 482.2 C279.2 480.59 283.4 478.99 287.6 477.7 C293.47 475.89 299.33 474.66 305.2 473 C311.07 471.34 316.93 469.43 322.8 467.7 C330.2 465.52 337.6 463.27 345 461.3 C354.73 458.7 364.47 456.28 374.2 454.1 C386.6 451.32 399 448.74 411.4 446.5" stroke="#000000" stroke-width="1.25" stroke-dasharray="2.5 1.1"/>
<path d="M225.9 545 C226.27 539.08 226.63 532.62 227 530 C228 522.85 229 521.13 230 517 C230.33 515.62 230.67 513.87 231 513 C232.5 509.07 234 507.88 235.5 505.3 C237.37 502.09 239.23 497.49 241.1 495.6 C243.8 492.86 246.5 491.72 249.2 490 C251.9 488.28 254.6 486.68 257.3 485.2 C260.5 483.44 263.7 482.19 266.9 480.3 C269.6 478.71 272.3 476.21 275 474.7 C279.2 472.34 283.4 470.63 287.6 468.9 C293.47 466.48 299.33 464.55 305.2 462.4 C311.07 460.25 316.93 457.81 322.8 456 C330.2 453.71 337.6 452.27 345 450.1 C354.73 447.24 364.47 443.48 374.2 440.4 C386.6 436.48 399 432.72 411.4 429.2" stroke="#0072b2" stroke-width="1.25" stroke-dasharray="2.5 1.1"/>
</g>
<rect x="225.8" y="429" width="185.6" height="138.1" fill="none" stroke="#666666" stroke-width="1.15" stroke-linejoin="round"/>
<line x1="262.92" y1="567.1" x2="262.92" y2="569.1" stroke="#333" stroke-width="0.9"/>
<text x="263.22" y="579.8" font-family='"Liberation Serif", serif' font-size="12.6" fill="#383838" text-anchor="end" textLength="20.6" lengthAdjust="spacingAndGlyphs">0.02</text>
<line x1="300.04" y1="567.1" x2="300.04" y2="569.1" stroke="#333" stroke-width="0.9"/>
<text x="300.34" y="579.8" font-family='"Liberation Serif", serif' font-size="12.6" fill="#383838" text-anchor="end" textLength="20.6" lengthAdjust="spacingAndGlyphs">0.04</text>
<line x1="337.16" y1="567.1" x2="337.16" y2="569.1" stroke="#333" stroke-width="0.9"/>
<text x="337.46" y="579.8" font-family='"Liberation Serif", serif' font-size="12.6" fill="#383838" text-anchor="end" textLength="20.6" lengthAdjust="spacingAndGlyphs">0.06</text>
<line x1="374.28" y1="567.1" x2="374.28" y2="569.1" stroke="#333" stroke-width="0.9"/>
<text x="374.58" y="579.8" font-family='"Liberation Serif", serif' font-size="12.6" fill="#383838" text-anchor="end" textLength="20.6" lengthAdjust="spacingAndGlyphs">0.08</text>
<line x1="411.4" y1="567.1" x2="411.4" y2="569.1" stroke="#333" stroke-width="0.9"/>
<text x="411.7" y="579.8" font-family='"Liberation Serif", serif' font-size="12.6" fill="#383838" text-anchor="end" textLength="20.6" lengthAdjust="spacingAndGlyphs">0.10</text>
<line x1="223.8" y1="567.1" x2="225.8" y2="567.1" stroke="#333" stroke-width="0.9"/>
<text x="222.2" y="571.7" font-family='"Liberation Serif", serif' font-size="12.4" fill="#383838" text-anchor="end" textLength="6" lengthAdjust="spacingAndGlyphs">6</text>
<line x1="223.8" y1="532.9" x2="225.8" y2="532.9" stroke="#333" stroke-width="0.9"/>
<text x="222.2" y="537.5" font-family='"Liberation Serif", serif' font-size="12.4" fill="#383838" text-anchor="end" textLength="6" lengthAdjust="spacingAndGlyphs">8</text>
<line x1="223.8" y1="498.7" x2="225.8" y2="498.7" stroke="#333" stroke-width="0.9"/>
<text x="222.2" y="503.3" font-family='"Liberation Serif", serif' font-size="12.4" fill="#383838" text-anchor="end" textLength="11.8" lengthAdjust="spacingAndGlyphs">10</text>
<line x1="223.8" y1="464.5" x2="225.8" y2="464.5" stroke="#333" stroke-width="0.9"/>
<text x="222.2" y="469.1" font-family='"Liberation Serif", serif' font-size="12.4" fill="#383838" text-anchor="end" textLength="11.8" lengthAdjust="spacingAndGlyphs">12</text>
<line x1="223.8" y1="430.3" x2="225.8" y2="430.3" stroke="#333" stroke-width="0.9"/>
<text x="222.2" y="434.9" font-family='"Liberation Serif", serif' font-size="12.4" fill="#383838" text-anchor="end" textLength="11.8" lengthAdjust="spacingAndGlyphs">14</text>
<text x="318.6" y="592.3" font-family='"Liberation Sans", sans-serif' font-size="11.4" fill="#111" text-anchor="middle" stroke="#111" stroke-width="0.25" textLength="31.3" lengthAdjust="spacingAndGlyphs">q-value</text>
<text x="278.7" y="616.8" font-family='"Liberation Serif", serif' font-size="15.4" fill="#111" stroke="#111" stroke-width="0.2" textLength="17.3" lengthAdjust="spacingAndGlyphs">(h)</text>
<text x="302.6" y="616.8" font-family='"Liberation Serif", serif' font-size="15.4" fill="#111" stroke="#111" stroke-width="0.2" textLength="45" lengthAdjust="spacingAndGlyphs">Yeast-3</text>
<clipPath id="cpi"><rect x="453.4" y="429" width="185.1" height="138.1"/></clipPath>
<g clip-path="url(#cpi)" fill="none" stroke-linejoin="round">
<path d="M453.7 535 C454.17 531.6 454.63 527.91 455.1 526 C456.67 519.6 458.23 516.4 459.8 513.4 C462.23 508.74 464.67 505.39 467.1 502.9 C469.8 500.13 472.5 498.6 475.2 496.5 C477.33 494.84 479.47 492.77 481.6 491.6 C484.83 489.83 488.07 488.94 491.3 487.6 C495.87 485.71 500.43 483.52 505 481.9 C508.3 480.73 511.6 479.79 514.9 478.8 C527.27 475.09 539.63 471.58 552 468.3 C559 466.44 566 464.66 573 463 C582.57 460.73 592.13 458.57 601.7 456.6 C613.97 454.07 626.23 451.71 638.5 449.6" stroke="#cd82b1" stroke-width="1.1"/>
<path d="M454 567.1 C454.37 567.1 454.73 565.57 455.1 563.4 C455.47 561.23 455.83 538.7 456.2 536.4 C457.6 527.63 459 526.03 460.4 523.9 C464.23 518.06 468.07 516.61 471.9 513.4 C474.33 511.36 476.77 509.36 479.2 507.7 C483.23 504.95 487.27 502.56 491.3 500.5 C495.87 498.17 500.43 496.43 505 494.4 C508.3 492.93 511.6 491.23 514.9 490 C527.27 485.38 539.63 482.17 552 478.8 C559 476.89 566 475.15 573 473.5 C582.57 471.25 592.13 469.47 601.7 467.2 C613.97 464.29 626.23 461.09 638.5 457.6" stroke="#d66e12" stroke-width="1.25"/>
<path d="M453.7 545 C454.57 540.38 455.43 536.03 456.3 532.4 C457.67 526.68 459.03 519.71 460.4 517.6 C461.83 515.39 463.27 514.71 464.7 513.4 C468.2 510.19 471.7 506.79 475.2 504.5 C479.23 501.86 483.27 500.04 487.3 498.1 C493.2 495.27 499.1 492.83 505 490.4 C508.3 489.04 511.6 487.64 514.9 486.5 C527.27 482.22 539.63 479.31 552 475.6 C559 473.5 566 471.03 573 469.2 C582.57 466.7 592.13 464.92 601.7 462.7 C613.97 459.85 626.23 456.92 638.5 453.9" stroke="#000000" stroke-width="1.25"/>
<path d="M453.9 567.1 C454.3 567.1 454.7 566.51 455.1 565.8 C456.17 563.91 457.23 527.65 458.3 523.9 C460.17 517.33 462.03 516.72 463.9 513.4 C466.3 509.14 468.7 503.93 471.1 501.3 C473.8 498.35 476.5 496.41 479.2 494.8 C483.23 492.39 487.27 490.81 491.3 489.2 C495.87 487.37 500.43 486.1 505 484.4 C508.3 483.17 511.6 481.71 514.9 480.5 C524.9 476.84 534.9 473.46 544.9 470.5 C554.27 467.73 563.63 465.49 573 463 C582.57 460.46 592.13 458.04 601.7 455.4 C613.97 452.02 626.23 448.49 638.5 444.8" stroke="#0072b2" stroke-width="1.25"/>
<path d="M453.7 545 C454.87 536.41 456.03 526.15 457.2 523.8 C460.5 517.15 463.8 517.1 467.1 513.4 C469.8 510.37 472.5 506.33 475.2 503.7 C479.23 499.78 483.27 496.51 487.3 494 C493.2 490.33 499.1 487.84 505 485.2 C510.47 482.75 515.93 480.47 521.4 478.5 C529.23 475.67 537.07 473.07 544.9 471 C554.27 468.52 563.63 466.89 573 464.7 C582.57 462.47 592.13 459.8 601.7 457.7 C613.97 455 626.23 452.52 638.5 450.4" stroke="#d66e12" stroke-width="1.25" stroke-dasharray="2.5 1.1"/>
<path d="M453.7 540 C454.87 531.67 456.03 523.32 457.2 520.3 C459.17 515.21 461.13 513.47 463.1 511 C467.13 505.93 471.17 502.12 475.2 498.9 C480.57 494.62 485.93 490.99 491.3 488.4 C495.87 486.2 500.43 484.76 505 483.1 C510.47 481.11 515.93 479.27 521.4 477.5 C529.23 474.96 537.07 472.44 544.9 470.3 C554.27 467.74 563.63 465.62 573 463.4 C582.57 461.13 592.13 458.74 601.7 456.8 C613.97 454.32 626.23 452.05 638.5 450.2" stroke="#000000" stroke-width="1.25" stroke-dasharray="2.5 1.1"/>
<path d="M453.7 540 C454.17 536.49 454.63 532.81 455.1 529 C455.47 526.01 455.83 521.46 456.2 519.7 C456.87 516.5 457.53 515.21 458.2 513.4 C459.83 508.95 461.47 504.84 463.1 502.1 C464.97 498.97 466.83 497.03 468.7 494.8 C471.13 491.89 473.57 488.52 476 486.8 C478.93 484.73 481.87 483.95 484.8 482.3 C486.97 481.08 489.13 479.43 491.3 478.3 C495.87 475.92 500.43 474.22 505 472.3 C508.3 470.92 511.6 469.69 514.9 468.3 C521.9 465.35 528.9 461.32 535.9 458.9 C541.27 457.05 546.63 455.89 552 454.3 C559 452.22 566 449.95 573 447.8 C582.57 444.87 592.13 441.83 601.7 439.1 C613.97 435.59 626.23 432.26 638.5 429.2" stroke="#0072b2" stroke-width="1.25" stroke-dasharray="2.5 1.1"/>
</g>
<rect x="453.4" y="429" width="185.1" height="138.1" fill="none" stroke="#666666" stroke-width="1.15" stroke-linejoin="round"/>
<line x1="490.42" y1="567.1" x2="490.42" y2="569.1" stroke="#333" stroke-width="0.9"/>
<text x="490.72" y="579.8" font-family='"Liberation Serif", serif' font-size="12.6" fill="#383838" text-anchor="end" textLength="20.6" lengthAdjust="spacingAndGlyphs">0.02</text>
<line x1="527.44" y1="567.1" x2="527.44" y2="569.1" stroke="#333" stroke-width="0.9"/>
<text x="527.74" y="579.8" font-family='"Liberation Serif", serif' font-size="12.6" fill="#383838" text-anchor="end" textLength="20.6" lengthAdjust="spacingAndGlyphs">0.04</text>
<line x1="564.46" y1="567.1" x2="564.46" y2="569.1" stroke="#333" stroke-width="0.9"/>
<text x="564.76" y="579.8" font-family='"Liberation Serif", serif' font-size="12.6" fill="#383838" text-anchor="end" textLength="20.6" lengthAdjust="spacingAndGlyphs">0.06</text>
<line x1="601.48" y1="567.1" x2="601.48" y2="569.1" stroke="#333" stroke-width="0.9"/>
<text x="601.78" y="579.8" font-family='"Liberation Serif", serif' font-size="12.6" fill="#383838" text-anchor="end" textLength="20.6" lengthAdjust="spacingAndGlyphs">0.08</text>
<line x1="638.5" y1="567.1" x2="638.5" y2="569.1" stroke="#333" stroke-width="0.9"/>
<text x="638.8" y="579.8" font-family='"Liberation Serif", serif' font-size="12.6" fill="#383838" text-anchor="end" textLength="20.6" lengthAdjust="spacingAndGlyphs">0.10</text>
<line x1="451.4" y1="567.1" x2="453.4" y2="567.1" stroke="#333" stroke-width="0.9"/>
<text x="449.8" y="571.7" font-family='"Liberation Serif", serif' font-size="12.4" fill="#383838" text-anchor="end" textLength="6" lengthAdjust="spacingAndGlyphs">6</text>
<line x1="451.4" y1="532.9" x2="453.4" y2="532.9" stroke="#333" stroke-width="0.9"/>
<text x="449.8" y="537.5" font-family='"Liberation Serif", serif' font-size="12.4" fill="#383838" text-anchor="end" textLength="6" lengthAdjust="spacingAndGlyphs">8</text>
<line x1="451.4" y1="498.7" x2="453.4" y2="498.7" stroke="#333" stroke-width="0.9"/>
<text x="449.8" y="503.3" font-family='"Liberation Serif", serif' font-size="12.4" fill="#383838" text-anchor="end" textLength="11.8" lengthAdjust="spacingAndGlyphs">10</text>
<line x1="451.4" y1="464.5" x2="453.4" y2="464.5" stroke="#333" stroke-width="0.9"/>
<text x="449.8" y="469.1" font-family='"Liberation Serif", serif' font-size="12.4" fill="#383838" text-anchor="end" textLength="11.8" lengthAdjust="spacingAndGlyphs">12</text>
<line x1="451.4" y1="430.3" x2="453.4" y2="430.3" stroke="#333" stroke-width="0.9"/>
<text x="449.8" y="434.9" font-family='"Liberation Serif", serif' font-size="12.4" fill="#383838" text-anchor="end" textLength="11.8" lengthAdjust="spacingAndGlyphs">14</text>
<text x="545.95" y="592.3" font-family='"Liberation Sans", sans-serif' font-size="11.4" fill="#111" text-anchor="middle" stroke="#111" stroke-width="0.25" textLength="31.3" lengthAdjust="spacingAndGlyphs">q-value</text>
<text transform="translate(434 557.55) rotate(-90)" x="0" y="0" font-family='"Liberation Sans", sans-serif' font-size="11.2" fill="#1a1a1a" stroke="#1a1a1a" stroke-width="0.1" textLength="78.2" lengthAdjust="spacingAndGlyphs">Spectra identified</text>
<text transform="translate(434 475.25) rotate(-90)" x="0" y="0" font-family='"Liberation Serif", serif' font-size="12.8" fill="#1a1a1a" textLength="35.3" lengthAdjust="spacingAndGlyphs">(1000's)</text>
<text x="499.6" y="616.8" font-family='"Liberation Serif", serif' font-size="15.4" fill="#111" stroke="#111" stroke-width="0.2" textLength="13.6" lengthAdjust="spacingAndGlyphs">(i)</text>
<text x="520.4" y="616.8" font-family='"Liberation Serif", serif' font-size="15.4" fill="#111" stroke="#111" stroke-width="0.2" textLength="45.6" lengthAdjust="spacingAndGlyphs">Yeast-4</text>
</svg></body></html>
